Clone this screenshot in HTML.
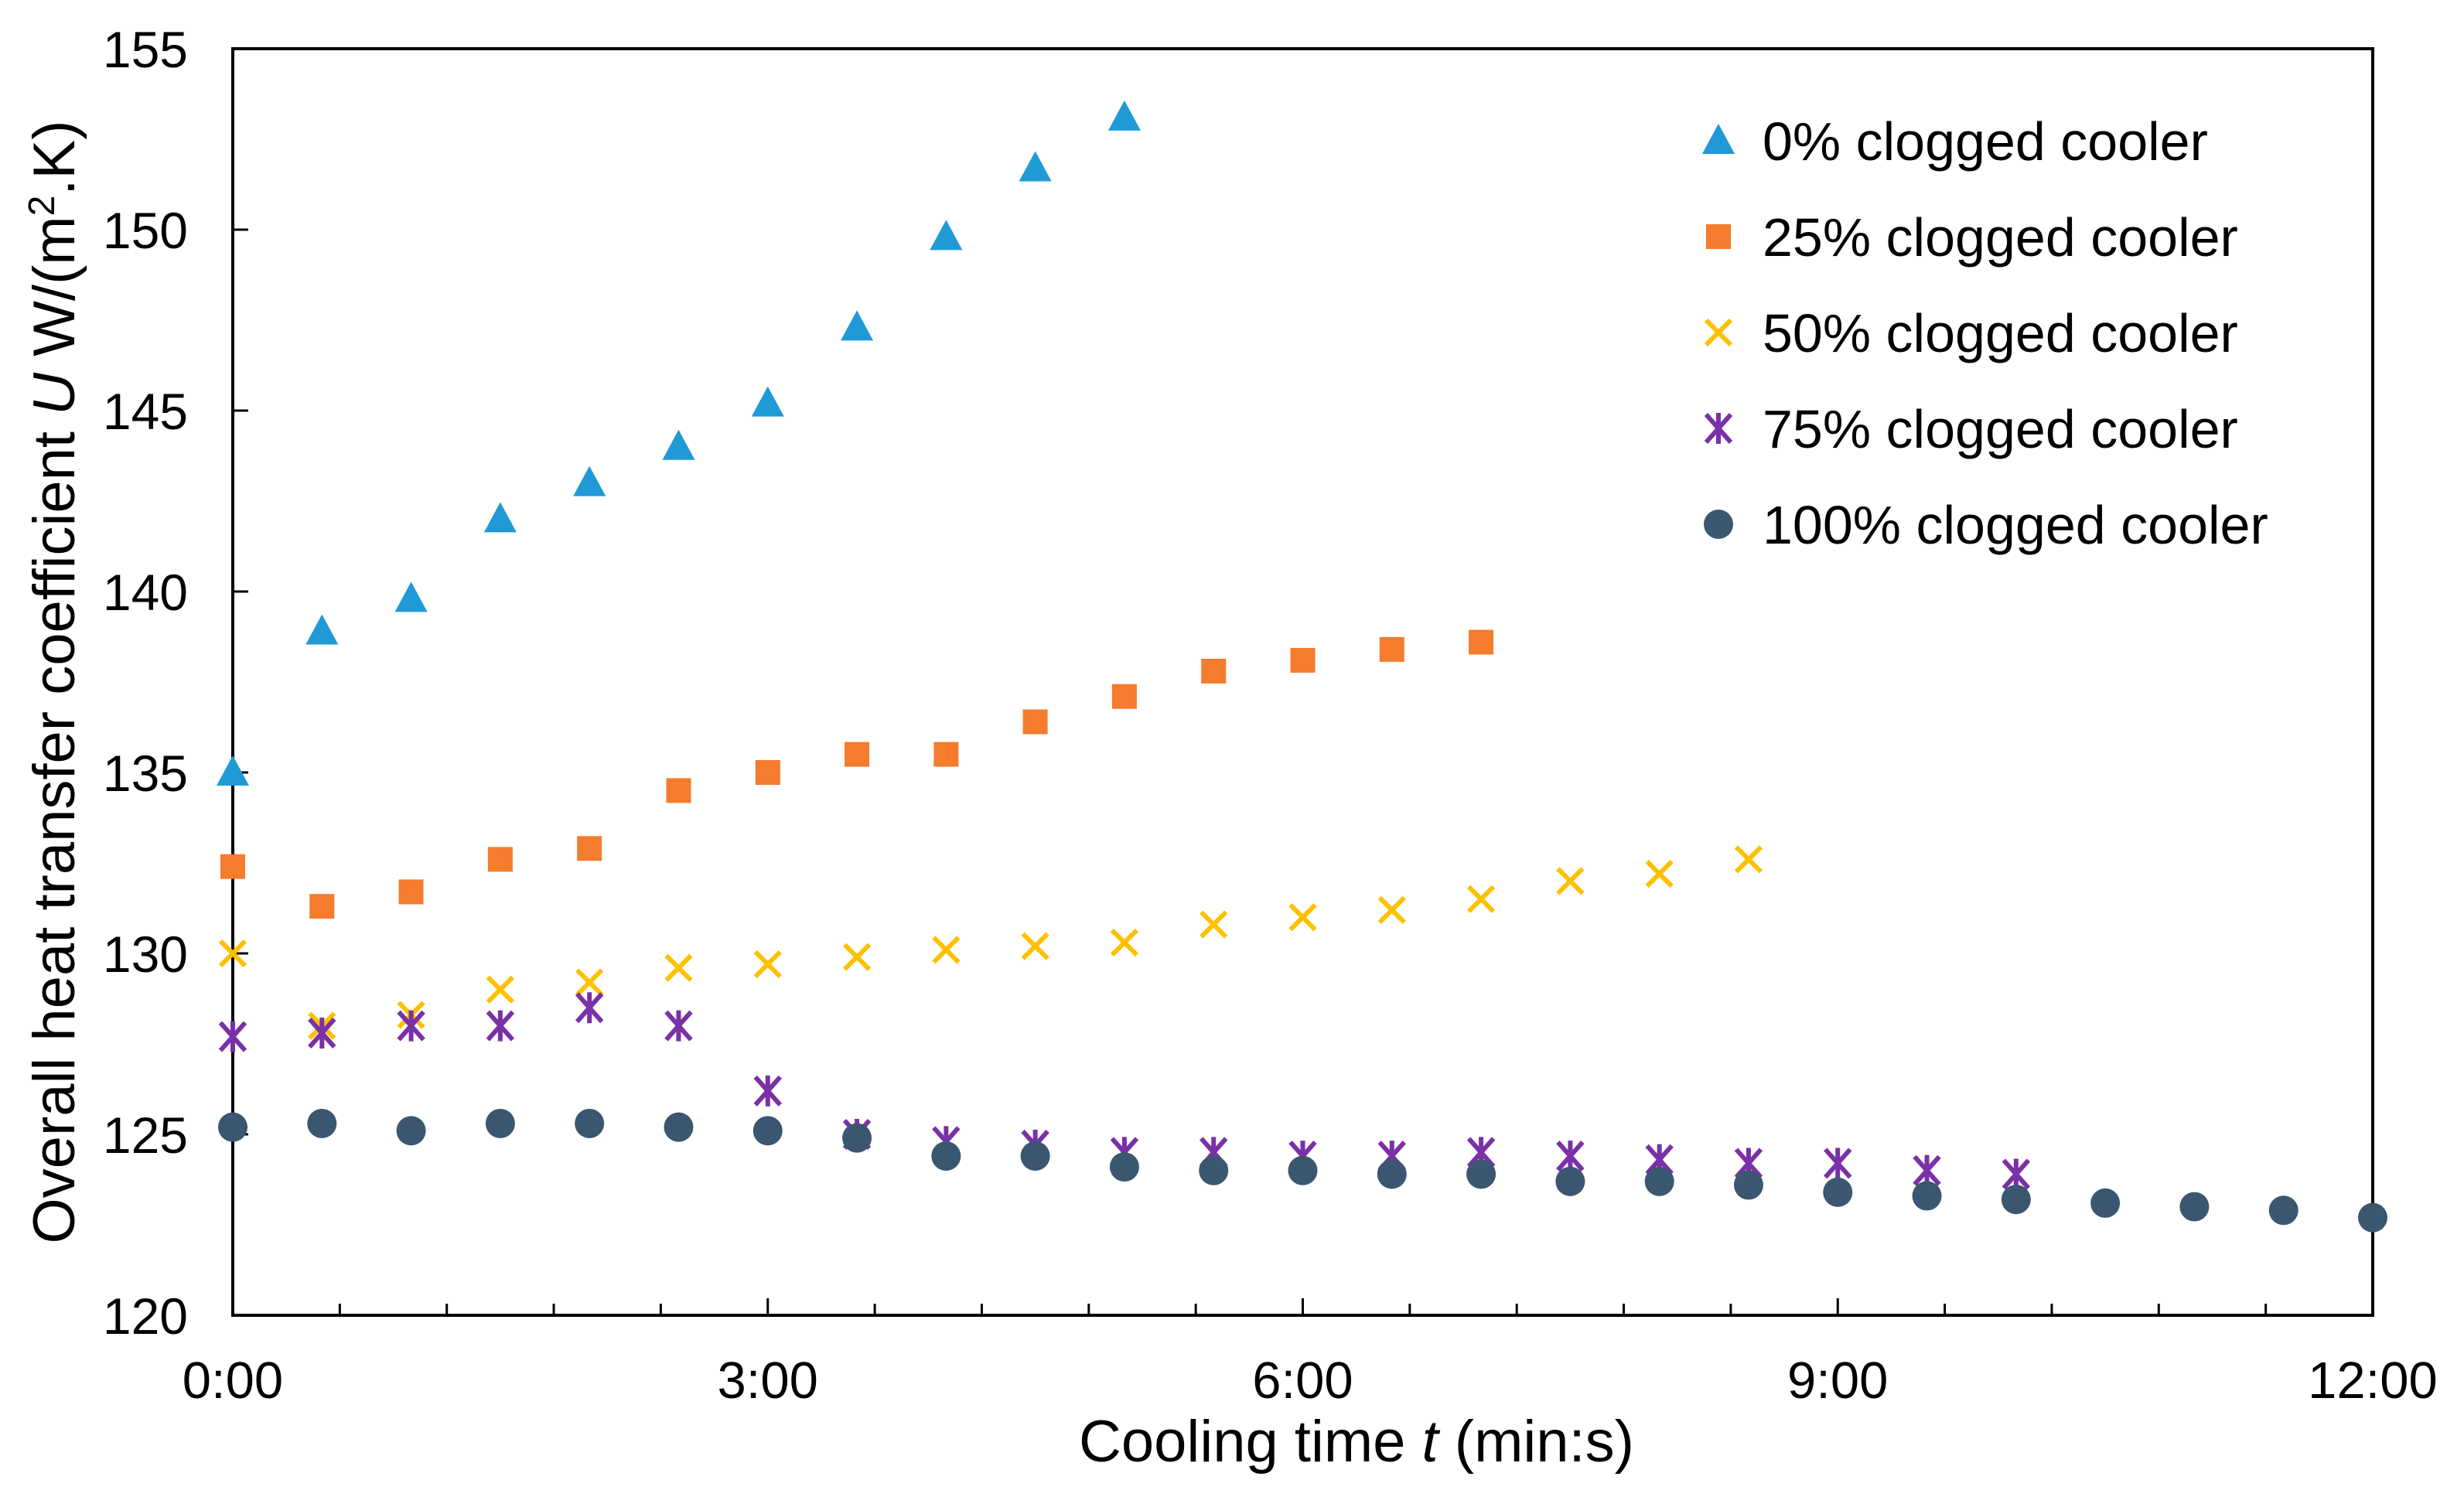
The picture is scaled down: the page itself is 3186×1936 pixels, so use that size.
<!DOCTYPE html>
<html><head><meta charset="utf-8"><style>html,body{margin:0;padding:0;background:#fff}svg{display:block}text{font-family:"Liberation Sans",Arial,sans-serif;fill:#000}</style></head>
<body>
<svg id="chart" width="3186" height="1936" viewBox="0 0 3186 1936" xmlns="http://www.w3.org/2000/svg">
<rect x="0" y="0" width="3186" height="1936" fill="#fff"/>
<g id="axes"></g>
<g id="marks"></g>
<g id="legend"></g>
<text x="1754" y="1890" font-size="76" text-anchor="middle">Cooling time <tspan font-style="italic">t</tspan> (min:s)</text>
<text transform="translate(96,882) rotate(-90)" font-size="76" text-anchor="middle">Overall heat transfer coefficient <tspan font-style="italic">U</tspan>  W/(m<tspan baseline-shift="super" font-size="48">2</tspan>.K)</text>
</svg>
<script>
const xTickLabels = ["0:00","3:00","6:00","9:00","12:00"];
const yTicks = [120,125,130,135,140,145,150,155];
const seriesNames = ["0% clogged cooler","25% clogged cooler","50% clogged cooler","75% clogged cooler","100% clogged cooler"];
const times = [0,0.5,1,1.5,2,2.5,3,3.5,4,4.5,5,5.5,6,6.5,7,7.5,8,8.5,9,9.5,10,10.5,11,11.5,12];
const u0 = [135.0,138.9,139.8,142.0,143.0,144.0,145.2,147.3,149.8,151.7,153.1];
const u25 = [132.4,131.3,131.7,132.6,132.9,134.5,135.0,135.5,135.5,136.4,137.1,137.8,138.1,138.4,138.6];
const u50 = [130.0,128.0,128.3,129.0,129.2,129.6,129.7,129.9,130.1,130.2,130.3,130.8,131.0,131.2,131.5,132.0,132.2,132.6];
const u75 = [127.7,127.8,128.0,128.0,128.5,128.0,126.2,125.0,124.8,124.7,124.5,124.5,124.4,124.4,124.5,124.4,124.3,124.2,124.2,124.0,123.9];
const u100 = [125.2,125.3,125.1,125.3,125.3,125.2,125.1,124.9,124.4,124.4,124.1,124.0,124.0,123.9,123.9,123.7,123.7,123.6,123.4,123.3,123.2,123.1,123.0,122.9,122.7];

const NS="http://www.w3.org/2000/svg";
const L=301,R=3068,T=63,B=1701;
const xMin=0,xMax=12,yMin=120,yMax=155;
function xs(v){return L+(v-xMin)/(xMax-xMin)*(R-L);}
function ys(v){return B-(v-yMin)/(yMax-yMin)*(B-T);}
function mk(tag,attrs,parent){const e=document.createElementNS(NS,tag);for(const k in attrs)e.setAttribute(k,attrs[k]);parent.appendChild(e);return e;}
const axes=document.getElementById('axes'),marks=document.getElementById('marks'),legend=document.getElementById('legend');

const frame=mk('rect',{x:L,y:T,width:R-L,height:B-T,fill:'none',stroke:'#000','stroke-width':4},axes);


yTicks.forEach(v=>{
  const tk=mk('line',{x1:L,x2:L+20,y1:ys(v),y2:ys(v),stroke:'#000','stroke-width':3},axes);
  
  
  const t=mk('text',{x:243,y:ys(v)+24,'font-size':66,'text-anchor':'end'},axes);
  t.textContent=v;
  
  
});
for(let i=0;i<=20;i++){
  const v=xMin+i*(xMax-xMin)/20;
  const major=i%5===0;
  const tk=mk('line',{x1:xs(v),x2:xs(v),y1:B,y2:B-(major?22:15),stroke:'#000','stroke-width':3},axes);
  
  
}
xTickLabels.forEach((lab,i)=>{
  const v=xMin+i*3;
  const t=mk('text',{x:xs(v),y:1808,'font-size':67,'text-anchor':'middle'},axes);
  t.textContent=lab;
  
  
});

const colors=["#1f9ad6","#f47c2c","#ffc000","#7a30a6","#3b5670"];
function marker(kind,cx,cy,parent){
  let e;
  if(kind===0){e=mk('polygon',{points:`${cx},${cy-22} ${cx+21},${cy+17} ${cx-21},${cy+17}`,fill:colors[0]},parent);}
  else if(kind===1){e=mk('rect',{x:cx-16,y:cy-16,width:32,height:32,fill:colors[1]},parent);}
  else if(kind===2){e=mk('path',{d:`M${cx-16},${cy-16}L${cx+16},${cy+16}M${cx+16},${cy-16}L${cx-16},${cy+16}`,stroke:colors[2],'stroke-width':6,fill:'none'},parent);}
  else if(kind===3){e=mk('path',{d:`M${cx-16},${cy-18}L${cx+16},${cy+18}M${cx+16},${cy-18}L${cx-16},${cy+18}M${cx},${cy-20}L${cx},${cy+20}`,stroke:colors[3],'stroke-width':6,fill:'none'},parent);}
  else {e=mk('circle',{cx:cx,cy:cy,r:19,fill:colors[4]},parent);}
  return e;
}
const allSeries=[u0,u25,u50,u75,u100];
const seriesKeys=['0','25','50','75','100'];
allSeries.forEach((arr,s)=>{
  const g=mk('g',{},marks);
  
  
  arr.forEach((v,i)=>{
    const m=marker(s,xs(times[i]),ys(v),g);
    
    
  });
});
seriesNames.forEach((n,s)=>{
  const g=mk('g',{},legend);
  
  
  const y=182+s*124;
  marker(s,2222,y,g);
  const t=mk('text',{x:2279,y:y+25,'font-size':70},g);
  t.textContent=n;
});
</script>
</body></html>
